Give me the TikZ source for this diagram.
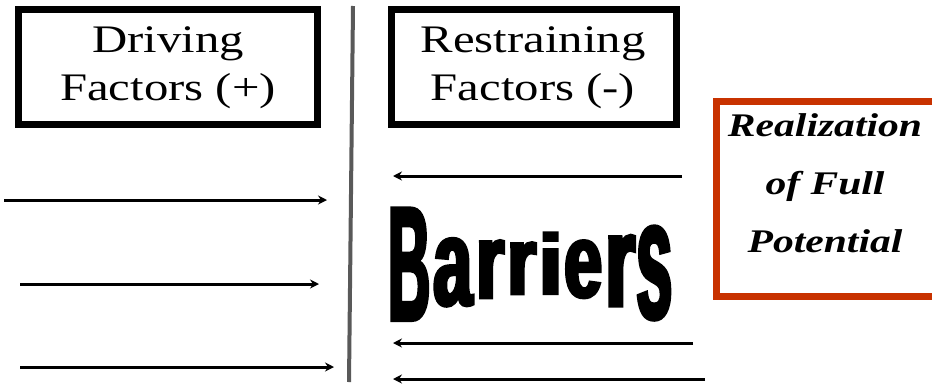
\documentclass[tikz,border=0pt]{standalone}
\usepackage{fontspec}
\setmainfont{Liberation Serif}
\newfontfamily\barfont{Liberation Sans Bold}[FakeStretch=0.4, FakeBold=2.2]
\usepackage{graphicx}
\usetikzlibrary{arrows.meta}
\definecolor{boxred}{RGB}{200,50,0}
\tikzset{
  blackbox/.style={draw=black, line width=7pt},
  redbox/.style={draw=boxred, line width=7pt},
  force/.style={line width=3pt, -{Stealth[length=9pt,width=9pt]}},
  boxtext/.style={inner sep=0pt, font=\fontsize{39}{48}\selectfont},
  realtext/.style={inner sep=0pt, font=\fontsize{33}{58}\selectfont\bfseries\itshape},
  letter/.style={inner sep=0pt, anchor=north west}
}
\newcommand{\barletter}[3]{\resizebox{#1pt}{#2pt}{\fontsize{100}{100}\barfont #3}}
\begin{document}
\begin{tikzpicture}[x=1pt,y=-1pt]
\useasboundingbox (0,0) rectangle (932,386);
\clip (0,0) rectangle (932,386);
% boxes
\draw[blackbox] (18.5,9.5) rectangle (317.5,124.5);
\draw[blackbox] (391.5,9.5) rectangle (676.5,124.5);
\draw[redbox] (716.5,101.5) rectangle (945,296.5);
% box texts
\node[boxtext] (drv) at (168,67) {\scalebox{1.25}[1]{\begin{tabular}{@{}c@{}}Driving\\Factors (+)\end{tabular}}};
\node[boxtext] (rst) at (533,67) {\scalebox{1.25}[1]{\begin{tabular}{@{}c@{}}Restraining\\Factors (-)\end{tabular}}};
\node[realtext] (real) at (825,183) {\scalebox{1.26}[1]{\begin{tabular}{@{}c@{}}Realization\\of Full\\Potential\end{tabular}}};
% vertical divider
\coordinate (vt) at (353,6);
\coordinate (vb) at (349,382);
\draw[line width=4pt, black!65] (vt) -- (vb);
% driving arrows
\coordinate (d1s) at (4,200);   \coordinate (d1e) at (327,200);
\coordinate (d2s) at (20,284);  \coordinate (d2e) at (319,284);
\coordinate (d3s) at (20,367);  \coordinate (d3e) at (334,367);
\draw[force] (d1s) -- (d1e);
\draw[force] (d2s) -- (d2e);
\draw[force] (d3s) -- (d3e);
% restraining arrows
\coordinate (r1s) at (682,176); \coordinate (r1e) at (393,176);
\coordinate (r2s) at (693,343); \coordinate (r2e) at (393,343);
\coordinate (r3s) at (705,379); \coordinate (r3e) at (393,379);
\draw[force] (r1s) -- (r1e);
\draw[force] (r2s) -- (r2e);
\draw[force] (r3s) -- (r3e);
% Barriers
\node[letter] (b1) at (388,208) {\barletter{42}{112}{B}};
\node[letter] (b2) at (433,238) {\barletter{39}{67}{a}};
\node[letter] (b3) at (476,240) {\barletter{28}{58}{r}};
\node[letter] (b4) at (507,242) {\barletter{29}{52}{r}};
\node[letter] (b5) at (539,232) {\barletter{23}{62}{i}};
\node[letter] (b6) at (564,240) {\barletter{38}{57}{e}};
\node[letter] (b7) at (605,235) {\barletter{30}{71}{r}};
\node[letter] (b8) at (636,226) {\barletter{36}{92}{s}};
\end{tikzpicture}
\end{document}
